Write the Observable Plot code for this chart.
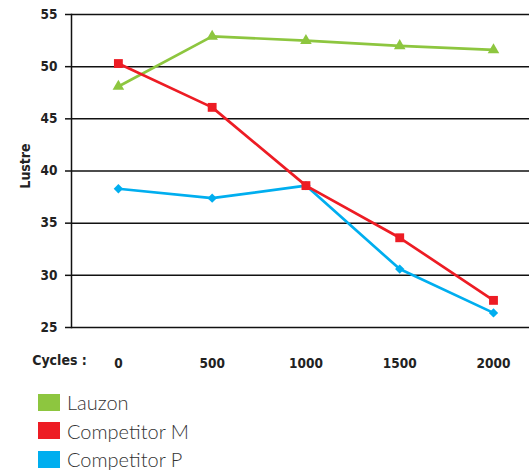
<!DOCTYPE html>
<html>
<head>
<meta charset="utf-8">
<script src="https://cdn.jsdelivr.net/npm/d3@7"></script>
<script src="https://cdn.jsdelivr.net/npm/@observablehq/plot@0.6"></script>
<style>
  html, body { margin: 0; padding: 0; background: #fff; }
  #legend { margin-left: 38px; margin-top: 13px; font-family: Lato, "Open Sans", sans-serif; font-weight: 300; font-size: 20px; color: #333; }
  .row { display: flex; align-items: center; height: 28.5px; }
  .sw { width: 22px; height: 17px; margin-right: 7px; }
</style>
</head>
<body>
<div id="chart"></div>
<div id="legend"></div>
<script>
const cycles = [0, 500, 1000, 1500, 2000];
const series = ["Lauzon", "Competitor M", "Competitor P"];
const colors = ["#8dc63f", "#ed1c24", "#00aeef"];
const symbols = ["triangle", "square", "diamond2"];
const lauzon = [48.1, 52.9, 52.5, 52.0, 51.6];
const competitorM = [50.3, 46.1, 38.6, 33.6, 27.6];
const competitorP = [38.3, 37.4, 38.6, 30.6, 26.4];
const yTicks = [25, 30, 35, 40, 45, 50, 55];

const values = [lauzon, competitorM, competitorP];
const data = [];
series.forEach((s, i) => cycles.forEach((c, j) => data.push({series: s, cycle: c, value: values[i][j]})));

const axisFont = "'Liberation Sans Narrow', 'DejaVu Sans Condensed', sans-serif";
const markerR = [4.3, 5, 4.2];
const drawOrder = [2, 0, 1];

const chart = Plot.plot({
  width: 529,
  height: 375,
  marginLeft: 71,
  marginRight: 0,
  marginTop: 14,
  marginBottom: 48,
  style: {fontFamily: axisFont, fontSize: "13.5px", fontWeight: "bold", color: "#222"},
  x: {domain: [-250, 2192]},
  y: {domain: [25, 55]},
  color: {domain: series, range: colors},
  symbol: {domain: series, range: symbols},
  marks: [
    Plot.ruleY(yTicks, {stroke: "#111", strokeWidth: 1.5}),
    Plot.frame({anchor: "left", stroke: "#111", strokeWidth: 1.5}),
    Plot.axisY({ticks: yTicks, tickSize: 6, tickPadding: 8, label: null, stroke: "#111", strokeWidth: 1.5, fontWeight: "bold", fontSize: 13.5}),
    Plot.axisX({ticks: cycles, tickSize: 0, tickPadding: 31, label: null, tickFormat: d => String(d), fontWeight: "bold", fontSize: 13.5}),
    Plot.text(["Cycles :"], {frameAnchor: "bottom-left", textAnchor: "middle", dx: -12, dy: 37, fontWeight: "bold", fontSize: 14}),
    Plot.text(["Lustre"], {frameAnchor: "left", textAnchor: "middle", dx: -46, dy: -5, rotate: -90, fontWeight: "bold", fontSize: 14, letterSpacing: "2px"}),
    ...drawOrder.map(i => Plot.line(data.filter(d => d.series === series[i]), {x: "cycle", y: "value", stroke: "series", strokeWidth: 2.7})),
    ...drawOrder.map(i => Plot.dot(data.filter(d => d.series === series[i]), {x: "cycle", y: "value", symbol: "series", fill: "series", stroke: null, r: markerR[i]}))
  ]
});
document.getElementById("chart").appendChild(chart);

const legend = document.getElementById("legend");
series.forEach((s, i) => {
  const row = document.createElement("div");
  row.className = "row";
  const sw = document.createElement("div");
  sw.className = "sw";
  sw.style.background = colors[i];
  const t = document.createElement("span");
  t.textContent = s;
  row.appendChild(sw);
  row.appendChild(t);
  legend.appendChild(row);
});
</script>
</body>
</html>
